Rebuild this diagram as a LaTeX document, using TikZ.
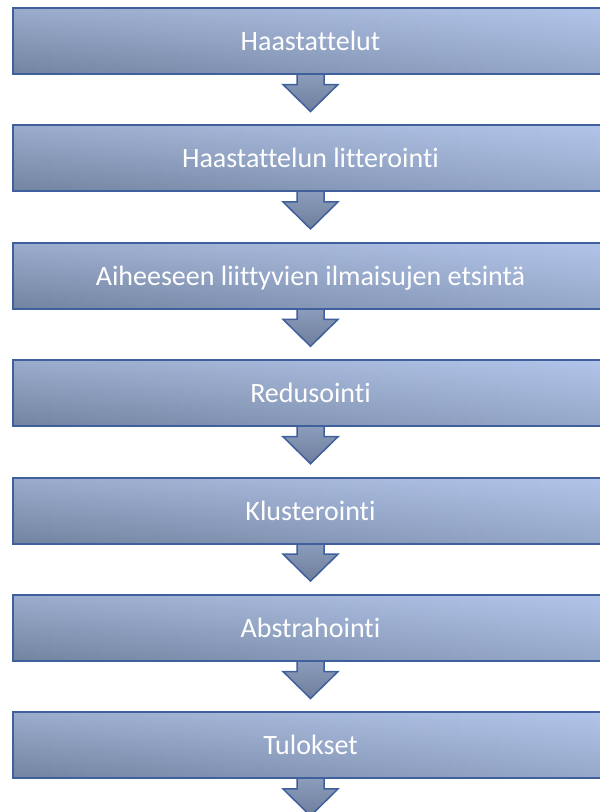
\documentclass[tikz,border=0pt]{standalone}
\usepackage{fontspec}
\setmainfont[Ligatures={NoCommon,NoRequired,NoContextual},RawFeature={-liga;-clig;-calt;-dlig}]{Carlito}
\usetikzlibrary{calc,fadings}
\definecolor{edgeblue}{HTML}{3F5F9D}
\definecolor{tlc}{HTML}{9CACCC}
\definecolor{trc}{HTML}{B2C5EA}
\definecolor{blc}{HTML}{7384A1}
\definecolor{brc}{HTML}{97A9CA}
\definecolor{atop}{HTML}{8E9FBF}
\definecolor{abot}{HTML}{6E7E9B}
\tikzfading[name=fadedown, top color=transparent!100, bottom color=transparent!0]
\tikzset{
  stepbox/.style={rectangle, draw=edgeblue, line width=2pt,
    path picture={
      \shade[left color=tlc, right color=trc]
        (path picture bounding box.south west) rectangle (path picture bounding box.north east);
      \shade[left color=blc, right color=brc, path fading=fadedown]
        (path picture bounding box.south west) rectangle (path picture bounding box.north east);
    },
    minimum width=596pt, minimum height=66pt, inner sep=0pt,
    text=white, font=\fontsize{28pt}{30pt}\selectfont,
    text height=19pt, text depth=0pt},
  downarrow/.style={draw=edgeblue, line width=1.5pt, line join=miter,
    top color=atop, bottom color=abot}
}
\begin{document}
\begin{tikzpicture}[x=1pt,y=-1pt]
\useasboundingbox (0,0) rectangle (600,812);
\def\pitch{117.4}
\foreach \i/\t in {1/Haastattelut,2/Haastattelun litterointi,3/Aiheeseen liittyvien ilmaisujen etsintä,4/Redusointi,5/Klusterointi,6/Abstrahointi,7/Tulokset}{
  \coordinate (c\i) at (310.5,{8+33+(\i-1)*\pitch});
  \path[downarrow] ($(c\i)+(-13.5,30)$) -- ($(c\i)+(-13.5,43.5)$) -- ($(c\i)+(-27.5,43.5)$)
     -- ($(c\i)+(0,70.5)$) -- ($(c\i)+(27.5,43.5)$) -- ($(c\i)+(13.5,43.5)$)
     -- ($(c\i)+(13.5,30)$) -- cycle;
  \node[stepbox] (b\i) at (c\i) {\t};
}
\end{tikzpicture}
\end{document}
